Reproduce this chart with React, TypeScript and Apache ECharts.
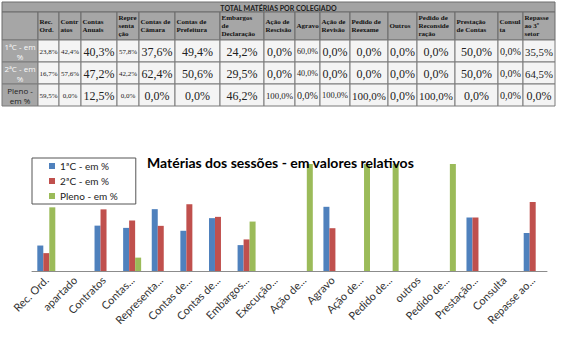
import { useEffect, useRef } from "react";
import * as echarts from "echarts";

const tableTitle = "TOTAL MATÉRIAS POR COLEGIADO";
const tableHeaders = [
  "Rec.\nOrd.", "Contr\natos", "Contas\nAnuais", "Repre\nsenta\nção", "Contas de\nCâmara",
  "Contas de\nPrefeitura", "Embargos\nde\nDeclaração", "Ação de\nRescisão", "Agravo",
  "Ação de\nRevisão", "Pedido de\nReexame", "Outros", "Pedido de\nReconside\nração",
  "Prestação\nde Contas", "Consul\nta", "Repasse\nao 3º\nsetor",
];
const rowLabels = ["1ªC - em\n%", "2ªC - em\n%", "Pleno -\nem %"];
const primeiraCamara = [23.8, 42.4, 40.3, 57.8, 37.6, 49.4, 24.2, 0, 60, 0, 0, 0, 0, 50, 0, 35.5];
const segundaCamara = [16.7, 57.6, 47.2, 42.2, 62.4, 50.6, 29.5, 0, 40, 0, 0, 0, 0, 50, 0, 64.5];
const pleno = [59.5, 0, 12.5, 0, 0, 0, 46.2, 100, 0, 100, 100, 0, 100, 0, 0, 0];

const chartTitle = "Matérias dos sessões - em valores relativos";
const chartCategories = [
  "Rec. Ord.", "apartado", "Contratos", "Contas...", "Representa...", "Contas de...",
  "Contas de...", "Embargos...", "Execução...", "Ação de...", "Agravo", "Ação de...",
  "Pedido de...", "outros", "Pedido de...", "Prestação...", "Consulta", "Repasse ao...",
];
// index of the table column each chart category comes from (-1: no value)
const chartToTableColumn = [0, -1, 1, 2, 3, 4, 5, 6, -1, 7, 8, 9, 10, 11, 12, 13, 14, 15];
const seriesNames = ["1ªC - em %", "2ªC - em %", "Pleno - em %"];

// layout
const colEdges = [2, 38, 59, 81, 117, 139, 175, 220, 264, 295, 320, 350, 388, 417, 455, 498, 523, 555];
const rowEdges = [2, 12, 40, 62, 84, 106];
const seriesColors = ["#4f81bd", "#c0504d", "#9bbb59"];

const fmt = (v: number) => v.toFixed(1).replace(".", ",") + "%";

function buildTable() {
  const els: any[] = [];
  const rows = [primeiraCamara, segundaCamara, pleno];
  const left = colEdges[0];
  const right = colEdges[colEdges.length - 1];
  els.push({
    type: "rect",
    shape: { x: left, y: rowEdges[0], width: right - left, height: rowEdges[1] - rowEdges[0] },
    style: { fill: "#a3a3a3", stroke: "#6f6f6f", lineWidth: 1 },
  });
  els.push({
    type: "text",
    x: (left + right) / 2,
    y: (rowEdges[0] + rowEdges[1]) / 2 + 0.5,
    style: { text: tableTitle, font: "bold 7px Lato", fill: "#1a1a1a", align: "center", verticalAlign: "middle" },
  });
  for (let c = 0; c < colEdges.length - 1; c++) {
    const x0 = colEdges[c], x1 = colEdges[c + 1];
    const y0 = rowEdges[1], y1 = rowEdges[2];
    els.push({
      type: "rect",
      shape: { x: x0, y: y0, width: x1 - x0, height: y1 - y0 },
      style: { fill: "#a6a6a6", stroke: "#6a6a6a", lineWidth: 1 },
    });
    if (c > 0) {
      els.push({
        type: "text",
        x: x0 + 1.5,
        y: (y0 + y1) / 2,
        style: {
          text: tableHeaders[c - 1],
          font: "bold 7px 'Liberation Serif'",
          lineHeight: 8,
          fill: "#111",
          align: "left",
          verticalAlign: "middle",
        },
      });
    }
  }
  for (let r = 0; r < 3; r++) {
    const y0 = rowEdges[r + 2], y1 = rowEdges[r + 3];
    for (let c = 0; c < colEdges.length - 1; c++) {
      const x0 = colEdges[c], x1 = colEdges[c + 1];
      const w = x1 - x0;
      els.push({
        type: "rect",
        shape: { x: x0, y: y0, width: w, height: y1 - y0 },
        style: { fill: c === 0 ? "#a6a6a6" : "#f4f4f4", stroke: "#7a7a7a", lineWidth: 1 },
      });
      if (c === 0) {
        els.push({
          type: "text",
          x: (x0 + x1) / 2,
          y: (y0 + y1) / 2,
          style: {
            text: rowLabels[r],
            font: "8px 'Open Sans'",
            lineHeight: 10,
            fill: r < 2 ? "#fafafa" : "#222",
            align: "center",
            verticalAlign: "middle",
          },
        });
      } else {
        const txt = fmt(rows[r][c - 1]);
        let ratio = 0;
        for (const ch of txt) ratio += ch === "," ? 0.25 : ch === "%" ? 0.833 : 0.5;
        let fs = Math.min(12, (w - 4) / ratio);
        if (w <= 22) fs = 7;
        els.push({
          type: "text",
          x: (x0 + x1) / 2,
          y: (y0 + y1) / 2 + 0.5,
          style: {
            text: txt,
            font: `${fs.toFixed(1)}px 'Liberation Serif'`,
            fill: "#222",
            align: "center",
            verticalAlign: "middle",
          },
        });
      }
    }
  }
  return els;
}

export default function App() {
  const ref = useRef<HTMLDivElement>(null);
  useEffect(() => {
    if (!ref.current) return;
    const chart = echarts.init(ref.current, undefined, { renderer: "svg" });
    const tableRows = [primeiraCamara, segundaCamara, pleno];
    const series = seriesNames.map((name, i) => ({
      name,
      type: "bar" as const,
      barWidth: 6,
      barGap: "0%",
      itemStyle: { color: seriesColors[i] },
      data: chartToTableColumn.map((t) => (t < 0 ? 0 : tableRows[i][t])),
    }));
    chart.setOption({
      animation: false,
      backgroundColor: "#ffffff",
      title: {
        text: chartTitle,
        left: 147,
        top: 155,
        padding: 0,
        textStyle: { fontFamily: "Lato", fontWeight: "bold", fontSize: 14, color: "#000" },
      },
      legend: {
        orient: "vertical",
        left: 32,
        top: 158,
        padding: [2, 18, 2, 17],
        itemGap: 3,
        itemWidth: 6,
        itemHeight: 6,
        borderColor: "#555",
        borderWidth: 1,
        icon: "rect",
        textStyle: { fontFamily: "Lato", fontSize: 10, color: "#222", lineHeight: 12 },
        data: seriesNames,
      },
      grid: { left: 32, right: 20, top: 164, bottom: 72, containLabel: false },
      xAxis: {
        type: "category",
        data: chartCategories,
        axisLine: { lineStyle: { color: "#8c8c8c", width: 1 } },
        axisTick: { show: false },
        axisLabel: {
          interval: 0,
          rotate: 45,
          fontFamily: "Lato",
          fontSize: 11,
          color: "#333",
          margin: 7,
        },
      },
      yAxis: {
        type: "value",
        min: 0,
        max: 100,
        show: false,
        splitLine: { show: false },
      },
      graphic: buildTable(),
      series,
    });
    return () => chart.dispose();
  }, []);
  return (
    <div
      ref={ref}
      style={{ position: "fixed", left: 0, top: 0, width: 567, height: 343, background: "#fff" }}
    />
  );
}
